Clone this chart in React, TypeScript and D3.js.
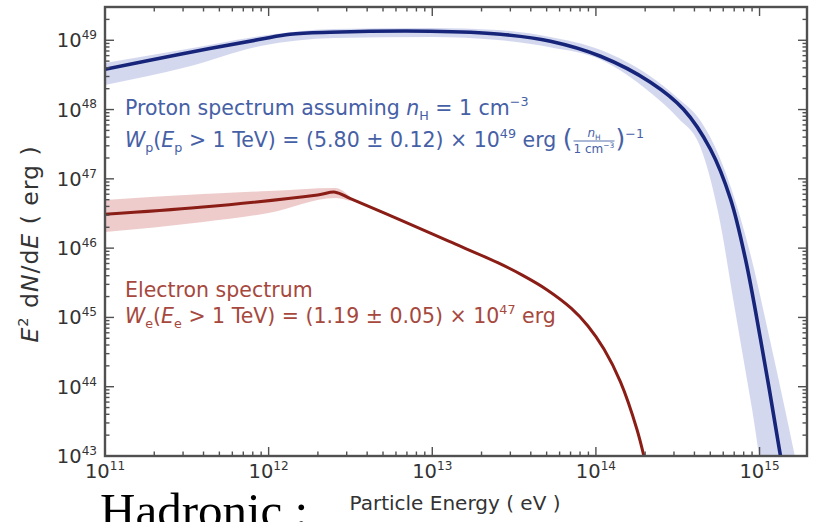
import React, { useEffect, useRef } from "react";
import * as d3 from "d3";

const WIDTH = 813;
const HEIGHT = 522;

// Axis ticks (powers of ten)
const xTickExponents = [11, 12, 13, 14, 15];
const yTickExponents = [43, 44, 45, 46, 47, 48, 49];

// Proton best-fit spectrum: log10(E / eV) vs log10(E^2 dN/dE / erg)
const protonLogE = [11.0, 11.459, 11.948, 12.131, 12.376, 12.988, 13.416, 13.722, 14.028, 14.333, 14.535, 14.7, 14.823, 14.914, 15.006, 15.128, 15.16];
const protonLogW = [48.582, 48.798, 49.014, 49.087, 49.115, 49.13, 49.087, 48.986, 48.769, 48.394, 48.004, 47.427, 46.706, 45.84, 44.685, 43.0, 42.5];

// Proton uncertainty band
const protonBandLogE = [11.0, 11.5, 11.95, 12.4, 13.0, 13.4, 13.72, 14.03, 14.33, 14.5, 14.64, 14.75, 14.85, 14.95, 15.05, 15.15, 15.25];
const protonBandUpper = [48.672, 48.874, 49.061, 49.163, 49.177, 49.148, 49.047, 48.859, 48.484, 48.167, 47.835, 47.344, 46.695, 45.858, 44.818, 43.736, 42.61];
const protonBandLower = [48.354, 48.614, 48.917, 49.033, 49.047, 49.004, 48.9, 48.72, 48.25, 47.88, 47.45, 46.48, 45.107, 43.736, 42.365, 42.0, 42.0];

// Electron best-fit spectrum
const electronLogE = [11.0, 11.581, 12.3, 12.407, 12.5, 12.8, 13.1, 13.4, 13.55, 13.7, 13.85, 13.95, 14.05, 14.15, 14.25, 14.3];
const electronLogW = [46.489, 46.59, 46.768, 46.807, 46.714, 46.41, 46.1, 45.79, 45.61, 45.4, 45.13, 44.88, 44.54, 44.07, 43.39, 42.93];

// Electron uncertainty band
const electronBandLogE = [11.0, 11.6, 12.0, 12.407, 12.5];
const electronBandUpper = [46.695, 46.781, 46.824, 46.868, 46.738];
const electronBandLower = [46.233, 46.377, 46.507, 46.723, 46.68];

const FONT = "'DejaVu Sans', 'Liberation Sans', Arial, sans-serif";

type Seg = { t: string; i?: boolean; sub?: boolean; sup?: boolean; size?: number };

function rich(parent: any, x: number, y: number, segs: Seg[], size: number, color: string, anchor = "start") {
  const t = parent
    .append("text")
    .attr("x", x)
    .attr("y", y)
    .attr("font-family", FONT)
    .attr("font-size", size)
    .attr("fill", color)
    .attr("text-anchor", anchor);
  let shift = 0;
  segs.forEach((s) => {
    const target = s.sub ? size * 0.25 : s.sup ? -size * 0.42 : 0;
    const ts = t.append("tspan").text(s.t).attr("dy", target - shift);
    shift = target;
    if (s.sub || s.sup) ts.attr("font-size", size * 0.62);
    if (s.size) ts.attr("font-size", s.size);
    if (s.i) ts.attr("font-style", "italic");
  });
  return t;
}

export default function App() {
  const ref = useRef<SVGSVGElement>(null);

  useEffect(() => {
    const svg = d3.select(ref.current);
    svg.selectAll("*").remove();

    const L = 105, R = 807, T = 7, B = 456;
    const x = d3.scaleLog().domain([1e11, Math.pow(10, 15.29)]).range([L, R]);
    const y = d3.scaleLog().domain([1e43, Math.pow(10, 49.48)]).range([B, T]);
    const p10 = (v: number) => Math.pow(10, v);

    svg.append("rect").attr("width", WIDTH).attr("height", HEIGHT).attr("fill", "#fff");

    const defs = svg.append("defs");
    defs.append("clipPath").attr("id", "plotclip")
      .append("rect").attr("x", L).attr("y", T).attr("width", R - L).attr("height", B - T);

    const plot = svg.append("g").attr("clip-path", "url(#plotclip)");
    const curve = d3.curveCatmullRom.alpha(0.5);

    // Bands
    const bandArea = (es: number[], lo: number[], hi: number[]) =>
      d3.area<number>()
        .x((_, i) => x(p10(es[i])))
        .y0((_, i) => y(p10(lo[i])))
        .y1((_, i) => y(p10(hi[i])))
        .curve(d3.curveMonotoneX)(es);

    plot.append("path")
      .attr("d", bandArea(protonBandLogE, protonBandLower, protonBandUpper) as string)
      .attr("fill", "rgb(120,135,205)")
      .attr("fill-opacity", 0.32);

    plot.append("path")
      .attr("d", bandArea(electronBandLogE, electronBandLower, electronBandUpper) as string)
      .attr("fill", "rgb(205,110,110)")
      .attr("fill-opacity", 0.35);

    const lineGen = (es: number[], ws: number[]) =>
      d3.line<number>()
        .x((_, i) => x(p10(es[i])))
        .y((_, i) => y(p10(ws[i])))
        .curve(curve)(es);

    plot.append("path")
      .attr("d", lineGen(protonLogE, protonLogW) as string)
      .attr("fill", "none")
      .attr("stroke", "#16257a")
      .attr("stroke-width", 3.6)
      .attr("stroke-linejoin", "round");

    plot.append("path")
      .attr("d", lineGen(electronLogE, electronLogW) as string)
      .attr("fill", "none")
      .attr("stroke", "#8a1d16")
      .attr("stroke-width", 3)
      .attr("stroke-linejoin", "round");

    // Ticks
    const axisColor = "#505050";
    const tg = svg.append("g").attr("stroke", axisColor).attr("stroke-width", 1.4);
    const majorLen = 9, minorLen = 4.5;
    for (let d = 11; d <= 15; d++) {
      for (let k = 1; k <= 9; k++) {
        const v = k * p10(d);
        if (v < 1e11 || v > p10(15.29)) continue;
        const px = x(v);
        const len = k === 1 ? majorLen : minorLen;
        tg.append("line").attr("x1", px).attr("x2", px).attr("y1", B).attr("y2", B - len);
        tg.append("line").attr("x1", px).attr("x2", px).attr("y1", T).attr("y2", T + len);
      }
    }
    for (let d = 43; d <= 49; d++) {
      for (let k = 1; k <= 9; k++) {
        const v = k * p10(d);
        if (v < 1e43 || v > p10(49.48)) continue;
        const py = y(v);
        const len = k === 1 ? majorLen : minorLen;
        tg.append("line").attr("x1", L).attr("x2", L + len).attr("y1", py).attr("y2", py);
        tg.append("line").attr("x1", R).attr("x2", R - len).attr("y1", py).attr("y2", py);
      }
    }

    // Frame
    svg.append("rect")
      .attr("x", L).attr("y", T).attr("width", R - L).attr("height", B - T)
      .attr("fill", "none").attr("stroke", axisColor).attr("stroke-width", 2.4);

    // Tick labels
    const labelColor = "#333";
    xTickExponents.forEach((e) => {
      rich(svg, x(p10(e)), 478, [{ t: "10" }, { t: String(e), sup: true }], 19.5, labelColor, "middle");
    });
    yTickExponents.forEach((e) => {
      rich(svg, L - 8, y(p10(e)) + 7, [{ t: "10" }, { t: String(e), sup: true }], 19.5, labelColor, "end");
    });

    // Axis titles
    const yt = svg.append("g").attr("transform", "translate(38,244) rotate(-90)");
    rich(yt, 0, 0, [
      { t: "E", i: true }, { t: "2", sup: true }, { t: " d" }, { t: "N", i: true },
      { t: "/d" }, { t: "E", i: true }, { t: " ( erg )" },
    ], 23.5, labelColor, "middle").attr("letter-spacing", 1);

    rich(svg, 455, 510, [{ t: "Particle Energy ( eV )" }], 20, labelColor, "middle");

    // Annotations
    const blue = "#4660a6";
    const red = "#a6483d";
    const fs = 20.5;
    rich(svg, 125, 115, [
      { t: "Proton spectrum assuming " }, { t: "n", i: true }, { t: "H", sub: true },
      { t: " = 1 cm" }, { t: "−3", sup: true },
    ], fs, blue);

    const l2 = rich(svg, 125, 147, [
      { t: "W", i: true }, { t: "p", sub: true }, { t: "(" }, { t: "E", i: true }, { t: "p", sub: true },
      { t: " > 1 TeV) = (5.80 ± 0.12) × 10" }, { t: "49", sup: true }, { t: " erg " }, { t: "(", size: 25 },
    ], fs, blue);
    const b2 = (l2.node() as SVGTextElement).getBBox();
    const fx0 = b2.x + b2.width + 1;
    const den = rich(svg, fx0, 153, [{ t: "1 cm" }, { t: "−3", sup: true }], 12, blue);
    const dbb = (den.node() as SVGTextElement).getBBox();
    const fw = dbb.width;
    rich(svg, fx0 + fw / 2, 137, [{ t: "n", i: true }, { t: "H", sub: true }], 12, blue, "middle");
    svg.append("line").attr("x1", fx0).attr("x2", fx0 + fw).attr("y1", 141).attr("y2", 141)
      .attr("stroke", blue).attr("stroke-width", 0.9);
    rich(svg, fx0 + fw + 1, 147, [{ t: ")", size: 25 }, { t: "−1", sup: true }], fs, blue);

    rich(svg, 125, 297, [{ t: "Electron spectrum" }], fs, red);
    rich(svg, 125, 323, [
      { t: "W", i: true }, { t: "e", sub: true }, { t: "(" }, { t: "E", i: true }, { t: "e", sub: true },
      { t: " > 1 TeV) = (1.19 ± 0.05) × 10" }, { t: "47", sup: true }, { t: " erg" },
    ], fs, red);

    // Caption fragment below the figure (cut off at the bottom edge, as in the source)
    svg.append("text")
      .attr("x", 100).attr("y", 527)
      .attr("font-family", "'Liberation Serif', 'Times New Roman', serif")
      .attr("font-size", 49)
      .attr("fill", "#000")
      .text("Hadronic :");
  }, []);

  return (
    <svg
      ref={ref}
      width={WIDTH}
      height={HEIGHT}
      style={{ position: "absolute", left: 0, top: 0, display: "block" }}
    />
  );
}
